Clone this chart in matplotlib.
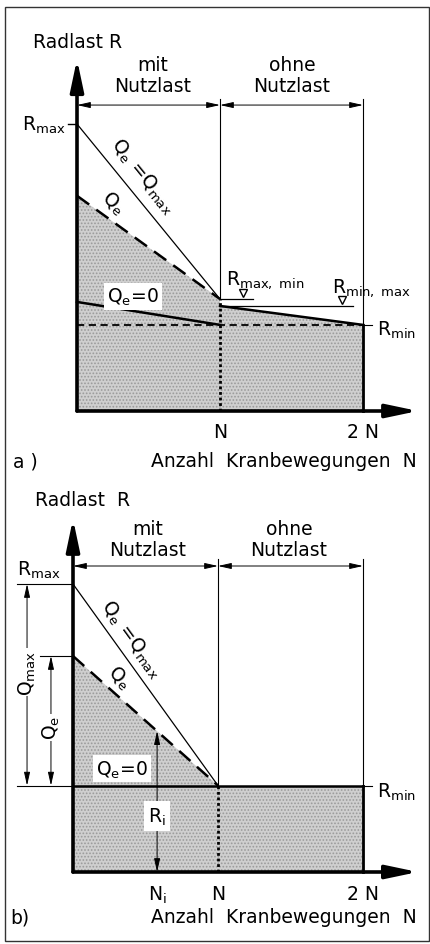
import matplotlib.pyplot as plt
from matplotlib.patches import Polygon, Rectangle

plt.rcParams['font.family'] = ['DejaVu Sans']
plt.rcParams['hatch.color'] = '#9a9a9a'
plt.rcParams['hatch.linewidth'] = 0.8

# chart values (x in units of N, y in units of R_max)
x_marks = [0, 1, 2]
x_labels = ['', 'N', '2 N']
r_max = 1.0
q_e_start = 0.75
r_min = 0.30
# panel a
a_conv = 0.39          # where Q_e=Q_max and Q_e meet at N
a_q0 = [0.38, 0.30]    # Q_e=0 line, with payload
a_q0_empty = [0.366, 0.30]   # without payload
# panel b
b_ni = 0.58

FILL = '#cfcfcf'
FS = 13.5


def arrow(ax, x0, y0, x1, y1, style='<|-|>', lw=0.7, hl=0.8, hw=0.18):
    ax.annotate('', xy=(x1, y1), xytext=(x0, y0),
                arrowprops=dict(arrowstyle=f'{style},head_length={hl},head_width={hw}',
                                lw=lw, color='k', shrinkA=0, shrinkB=0,
                                mutation_scale=10))


def axes_frame(ax, ytop, xend):
    arrow(ax, 0, 0, 0, ytop, style='-|>', lw=2.6, hl=1.9, hw=0.4)
    arrow(ax, 0, 0, xend, 0, style='-|>', lw=2.6, hl=1.9, hw=0.4)


fig = plt.figure(figsize=(4.31, 9.45), dpi=100)

# outer frame
bg = fig.add_axes([0, 0, 1, 1])
bg.set_xlim(0, 431)
bg.set_ylim(945, 0)
bg.axis('off')
bg.add_patch(Rectangle((5, 8), 424, 934, fill=False, lw=1.0, ec='#333333'))

# ---------------- panel a ----------------
ax = fig.add_axes([0, 1 - 472 / 945, 1, 472 / 945])
ax.set_xlim(-77 / 143, 354 / 143)
ax.set_ylim(-60 / 287, 412 / 287)
ax.axis('off')

ax.add_patch(Polygon([(0, 0), (0, q_e_start), (1, a_conv), (1, 0)],
                     closed=True, fc=FILL, hatch='.....', lw=0, zorder=1))
ax.add_patch(Polygon([(1, 0), (1, a_q0_empty[0]), (2, a_q0_empty[1]), (2, 0)],
                     closed=True, fc=FILL, hatch='.....', lw=0, zorder=1))

ax.plot([1, 1], [a_conv, 1.087], color='k', lw=0.8)
ax.plot([2, 2], [r_min, 1.087], color='k', lw=0.8)
ax.plot([1, 1], [0, a_conv], color='k', lw=2.0, ls=(0, (1, 1)))
ax.plot([2, 2], [0, r_min], color='k', lw=2.0)

ax.plot([0, 1], [r_max, a_conv], color='k', lw=0.9)
ax.plot([0, 1], [q_e_start, a_conv], color='k', lw=1.8, ls=(0, (6, 3.5)))
ax.plot([0, 1], a_q0, color='k', lw=1.8)
ax.plot([1, 2], a_q0_empty, color='k', lw=1.8)
ax.plot([0, 2], [r_min, r_min], color='k', lw=1.3, ls=(0, (4, 2.5)))
ax.plot([2, 2.065], [r_min, r_min], color='k', lw=0.8)
ax.plot([-0.063, 0], [r_max, r_max], color='k', lw=1.0)

ax.plot([1, 1.23], [a_conv, a_conv], color='k', lw=0.9)
ax.plot([1, 1.93], [a_q0_empty[0], a_q0_empty[0]], color='k', lw=0.9)
ax.plot([1.16], [a_conv + 0.02], marker='v', ms=6, mfc='white', mec='k', mew=1)
ax.plot([1.85], [a_q0_empty[0] + 0.02], marker='v', ms=6, mfc='white', mec='k', mew=1)

arrow(ax, 0, 1.066, 1, 1.066)
arrow(ax, 1, 1.066, 2, 1.066)
axes_frame(ax, 1.226, 2.385)

ax.text(-0.308, 1.289, 'Radlast R', fontsize=FS, ha='left', va='center')
ax.text(0.531, 1.171, 'mit\nNutzlast', fontsize=FS, ha='center', va='center', linespacing=1.1)
ax.text(1.503, 1.171, 'ohne\nNutzlast', fontsize=FS, ha='center', va='center', linespacing=1.1)
ax.text(-0.08, r_max, r'R$_{\rm max}$', fontsize=FS, ha='right', va='center')
for xm, lab in zip(x_marks, x_labels):
    ax.text(xm, -0.073, lab, fontsize=FS, ha='center', va='center')
ax.text(-0.448, -0.174, 'a )', fontsize=FS, ha='left', va='center')
ax.text(2.378, -0.174, 'Anzahl  Kranbewegungen  N', fontsize=FS, ha='right', va='center')
ax.text(2.1, 0.285, r'R$_{\rm min}$', fontsize=FS, ha='left', va='center')
ax.text(1.045, 0.46, r'R$_{\rm max,\ min}$', fontsize=FS, ha='left', va='center')
ax.text(1.78, 0.432, r'R$_{\rm min,\ max}$', fontsize=FS, ha='left', va='center')
ax.text(0.46, 0.82, r'Q$_{\rm e}$ =Q$_{\rm max}$', fontsize=FS, ha='center', va='center',
        rotation=-51)
ax.text(0.25, 0.725, r'Q$_{\rm e}$', fontsize=FS, ha='center', va='center', rotation=-40)
ax.text(0.392, 0.40, r'Q$_{\rm e}$=0', fontsize=FS, ha='center', va='center',
        bbox=dict(fc='white', ec='none', pad=2))

# ---------------- panel b ----------------
bx = fig.add_axes([0, 0, 1, 473 / 945])
bx.set_xlim(-73 / 145, 358 / 145)
bx.set_ylim(-72 / 288, 401 / 288)
bx.axis('off')

bx.add_patch(Polygon([(0, 0), (0, q_e_start), (1, r_min), (1, 0)],
                     closed=True, fc=FILL, hatch='.....', lw=0, zorder=1))
bx.add_patch(Polygon([(1, 0), (1, r_min), (2, r_min), (2, 0)],
                     closed=True, fc=FILL, hatch='.....', lw=0, zorder=1))

bx.plot([1, 1], [r_min, 1.087], color='k', lw=0.8)
bx.plot([2, 2], [r_min, 1.087], color='k', lw=0.8)
bx.plot([1, 1], [0, r_min], color='k', lw=2.0, ls=(0, (1, 1)))
bx.plot([2, 2], [0, r_min], color='k', lw=2.0)

bx.plot([0, 1], [r_max, r_min], color='k', lw=0.9)
bx.plot([0, 1], [q_e_start, r_min], color='k', lw=1.8, ls=(0, (6, 3.5)))
bx.plot([0, 2], [r_min, r_min], color='k', lw=1.8)
bx.plot([2, 2.065], [r_min, r_min], color='k', lw=0.8)

bx.plot([-0.386, 0], [r_max, r_max], color='k', lw=0.8)
bx.plot([-0.386, 0], [r_min, r_min], color='k', lw=0.8)
bx.plot([-0.228, 0], [q_e_start, q_e_start], color='k', lw=0.8)

arrow(bx, -0.317, r_min, -0.317, r_max)
arrow(bx, -0.152, r_min, -0.152, q_e_start)
b_ri = q_e_start - (q_e_start - r_min) * b_ni
arrow(bx, b_ni, 0, b_ni, b_ri)

arrow(bx, 0, 1.0625, 1, 1.0625)
arrow(bx, 1, 1.0625, 2, 1.0625)
axes_frame(bx, 1.226, 2.379)

bx.text(-0.262, 1.295, 'Radlast  R', fontsize=FS, ha='left', va='center')
bx.text(0.517, 1.156, 'mit\nNutzlast', fontsize=FS, ha='center', va='center', linespacing=1.1)
bx.text(1.49, 1.156, 'ohne\nNutzlast', fontsize=FS, ha='center', va='center', linespacing=1.1)
bx.text(-0.09, 1.05, r'R$_{\rm max}$', fontsize=FS, ha='right', va='center')
bx.text(-0.317, 0.694, r'Q$_{\rm max}$', fontsize=FS, ha='center', va='center', rotation=90,
        bbox=dict(fc='white', ec='none', pad=1))
bx.text(-0.152, 0.503, r'Q$_{\rm e}$', fontsize=FS, ha='center', va='center', rotation=90,
        bbox=dict(fc='white', ec='none', pad=1))
bx.text(b_ni, 0.194, r'R$_{\rm i}$', fontsize=FS, ha='center', va='center',
        bbox=dict(fc='white', ec='none', pad=3))
bx.text(0.338, 0.358, r'Q$_{\rm e}$=0', fontsize=FS, ha='center', va='center',
        bbox=dict(fc='white', ec='none', pad=2))
bx.text(0.40, 0.81, r'Q$_{\rm e}$ =Q$_{\rm max}$', fontsize=FS, ha='center', va='center',
        rotation=-54)
bx.text(0.32, 0.675, r'Q$_{\rm e}$', fontsize=FS, ha='center', va='center', rotation=-42)
bx.text(2.097, 0.28, r'R$_{\rm min}$', fontsize=FS, ha='left', va='center')
bx.text(b_ni, -0.076, r'N$_{\rm i}$', fontsize=FS, ha='center', va='center')
for xm, lab in zip(x_marks, x_labels):
    bx.text(xm, -0.076, lab, fontsize=FS, ha='center', va='center')
bx.text(-0.434, -0.156, 'b)', fontsize=FS, ha='left', va='center')
bx.text(2.372, -0.156, 'Anzahl  Kranbewegungen  N', fontsize=FS, ha='right', va='center')

fig.savefig('out.png', dpi=100)
